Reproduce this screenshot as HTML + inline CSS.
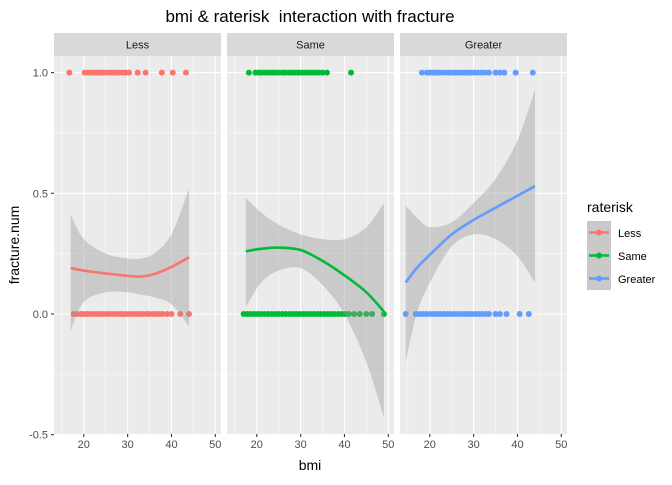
<!DOCTYPE html>
<html><head><meta charset="utf-8"><style>
body{margin:0;background:#fff;}
svg{font-family:"Liberation Sans",sans-serif;}
</style></head><body>
<svg id="c" width="672" height="480" xmlns="http://www.w3.org/2000/svg"></svg>
<script>
const panels=["Less","Same","Greater"];
const colors=["#F8766D","#00BA38","#619CFF"];
const xTicks=[20,30,40,50];
const yTicks=[-0.5,0,0.5,1];
const yTickLabels=["-0.5","0.0","0.5","1.0"];
const top1=[[16.7,20.2,21,21.8,22.5,23,23.6,24.2,25,25.8,26.5,27.2,28,28.8,29.5,30.3,32.3,34.1,37.8,40.3,43.3],
 [18.2,19.7,20.5,21.2,22,22.8,23.5,24.2,25,25.8,26.5,27.3,28,28.8,29.5,30.3,31,31.8,32.6,33.4,34.2,35,36,41.5],
 [18.2,19.3,20,20.7,21.4,22,22.7,23.5,24.3,25,25.8,26.5,27.2,28,28.8,29.5,30.2,31,31.8,32.6,33.5,35,36,37,39.6,43.5]];
const bot1=[[17.7,18.5,19.3,20,20.8,21.5,22.3,23,23.8,24.5,25.3,26,26.8,27.5,28.3,29,29.8,30.5,31.3,32,32.8,33.5,34.3,35,35.8,36.5,37.3,38,39,40,42,44],
 [17,17.8,18.6,19.4,20.2,21,21.8,22.6,23.4,24.2,25,25.8,26.6,27.4,28.2,29,29.8,30.6,31.4,32.2,33,33.8,34.6,35.4,36.2,37,37.8,38.6,39.4,40.2,41,42.2,43.5,45,46.3,49],
 [14.5,16.8,17.6,18.4,19.2,20,20.8,21.6,22.4,23.2,24,24.8,25.6,26.4,27.2,28,28.8,29.6,30.4,31.2,32,32.8,33.5,35,36,37.5,40.5,42.6]];
const fitX=[[17,20,25,30,33,36,40,44],[17.5,21,25,30,35,40,45,49],[14.5,17,20,25,30,35,40,44]];
const fitY=[[0.19,0.18,0.168,0.158,0.155,0.165,0.195,0.235],[0.26,0.27,0.275,0.265,0.22,0.16,0.09,0.01],[0.13,0.19,0.245,0.33,0.39,0.44,0.49,0.53]];
const fitHi=[[0.41,0.31,0.25,0.23,0.23,0.25,0.33,0.52],[0.48,0.42,0.37,0.33,0.31,0.31,0.36,0.46],[0.45,0.4,0.36,0.38,0.46,0.56,0.72,0.93]];
const fitLo=[[-0.07,0.05,0.09,0.09,0.08,0.07,0.04,-0.05],[0.03,0.13,0.18,0.19,0.12,0.0,-0.2,-0.43],[-0.2,0.0,0.13,0.28,0.33,0.31,0.24,0.13]];

const NS="http://www.w3.org/2000/svg";
const svg=document.getElementById('c');
function mk(t,a,p){const e=document.createElementNS(NS,t);for(const k in a)e.setAttribute(k,a[k]);(p||svg).appendChild(e);return e;}
function smooth(pts,start){let d=(start?'M':'L')+pts[0][0]+','+pts[0][1];
  for(let k=0;k<pts.length-1;k++){const p0=pts[Math.max(k-1,0)],p1=pts[k],p2=pts[k+1],p3=pts[Math.min(k+2,pts.length-1)];
    const c1=[p1[0]+(p2[0]-p0[0])/6,p1[1]+(p2[1]-p0[1])/6],c2=[p2[0]-(p3[0]-p1[0])/6,p2[1]-(p3[1]-p1[1])/6];
    d+='C'+c1[0]+','+c1[1]+' '+c2[0]+','+c2[1]+' '+p2[0]+','+p2[1];}
  return d;}
const pL=[54,227,400],pW=167,pT=56,pB=434;
const xMin=13.2,xMax=51.3;
function X(i,v){return pL[i]+(v-xMin)/(xMax-xMin)*pW;}
function Y(v){return 314-v*241.4;}
panels.forEach((name,i)=>{
  const g=mk('g',{});
  
  
  const s=mk('rect',{x:pL[i],y:33,width:pW,height:23,fill:'#D9D9D9'},g);
  
  
  const st=mk('text',{x:pL[i]+pW/2,y:48.5,'font-size':11,fill:'#1A1A1A','text-anchor':'middle'},g);st.textContent=name;
  
  
  mk('rect',{x:pL[i],y:pT,width:pW,height:pB-pT,fill:'#EBEBEB'},g);
  for(let k=0;k<yTicks.length-1;k++){const v=(yTicks[k]+yTicks[k+1])/2;mk('line',{x1:pL[i],x2:pL[i]+pW,y1:Y(v),y2:Y(v),stroke:'#fff','stroke-width':0.5},g);}
  [15,25,35,45].forEach(v=>mk('line',{x1:X(i,v),x2:X(i,v),y1:pT,y2:pB,stroke:'#fff','stroke-width':0.5},g));
  yTicks.forEach(v=>mk('line',{x1:pL[i],x2:pL[i]+pW,y1:Y(v),y2:Y(v),stroke:'#fff','stroke-width':1.1},g));
  xTicks.forEach(v=>{mk('line',{x1:X(i,v),x2:X(i,v),y1:pT,y2:pB,stroke:'#fff','stroke-width':1.1},g);
    mk('line',{x1:X(i,v),x2:X(i,v),y1:pB,y2:pB+3,stroke:'#333','stroke-width':1.1},g);
    const t=mk('text',{x:X(i,v),y:pB+14,'font-size':11,fill:'#4D4D4D','text-anchor':'middle'},g);t.textContent=v;
    
    });
  const c=colors[i];
  top1[i].forEach(v=>{const p=mk('circle',{cx:X(i,v),cy:Y(1),r:3,fill:c},g);
    
    });
  bot1[i].forEach(v=>{const p=mk('circle',{cx:X(i,v),cy:Y(0),r:3,fill:c},g);
    
    });
  const hi=fitX[i].map((v,k)=>[X(i,v),Y(fitHi[i][k])]);
  const lo=fitX[i].map((v,k)=>[X(i,v),Y(fitLo[i][k])]).reverse();
  const band=mk('path',{d:smooth(hi,true)+smooth(lo,false)+'Z',fill:'#999','fill-opacity':0.4},g);
  
  
  const ln=mk('path',{d:smooth(fitX[i].map((v,k)=>[X(i,v),Y(fitY[i][k])]),true),fill:'none',stroke:c,'stroke-width':2.6,'stroke-linejoin':'round'},g);
  
  
});
yTicks.forEach((v,k)=>{mk('line',{x1:51,x2:54,y1:Y(v),y2:Y(v),stroke:'#333','stroke-width':1.1});
  const t=mk('text',{x:48,y:Y(v)+4,'font-size':11,fill:'#4D4D4D','text-anchor':'end'});t.textContent=yTickLabels[k];
  
  });
const tt=mk('text',{x:310,y:22,'font-size':17,fill:'#000','text-anchor':'middle',style:'white-space:pre'});tt.textContent='bmi & raterisk  interaction with fracture';


const xt=mk('text',{x:310,y:470,'font-size':14,fill:'#000','text-anchor':'middle'});xt.textContent='bmi';


const yt=mk('text',{x:0,y:0,'font-size':14,fill:'#000','text-anchor':'middle',transform:'translate(19,245) rotate(-90)'});yt.textContent='fracture.num';


const lg=mk('g',{});


const lt=mk('text',{x:587,y:212,'font-size':14,fill:'#000'},lg);lt.textContent='raterisk';
panels.forEach((n,k)=>{const e=mk('g',{},lg);
  
  
  const y0=221+k*23;
  mk('rect',{x:587,y:y0,width:24,height:23,fill:'#C9C9C9'},e);
  mk('line',{x1:589,x2:609,y1:y0+11.5,y2:y0+11.5,stroke:colors[k],'stroke-width':2.6},e);
  mk('circle',{cx:599,cy:y0+11.5,r:3,fill:colors[k]},e);
  const t=mk('text',{x:618,y:y0+16,'font-size':11,fill:'#000'},e);t.textContent=n;});
</script>
</body></html>
